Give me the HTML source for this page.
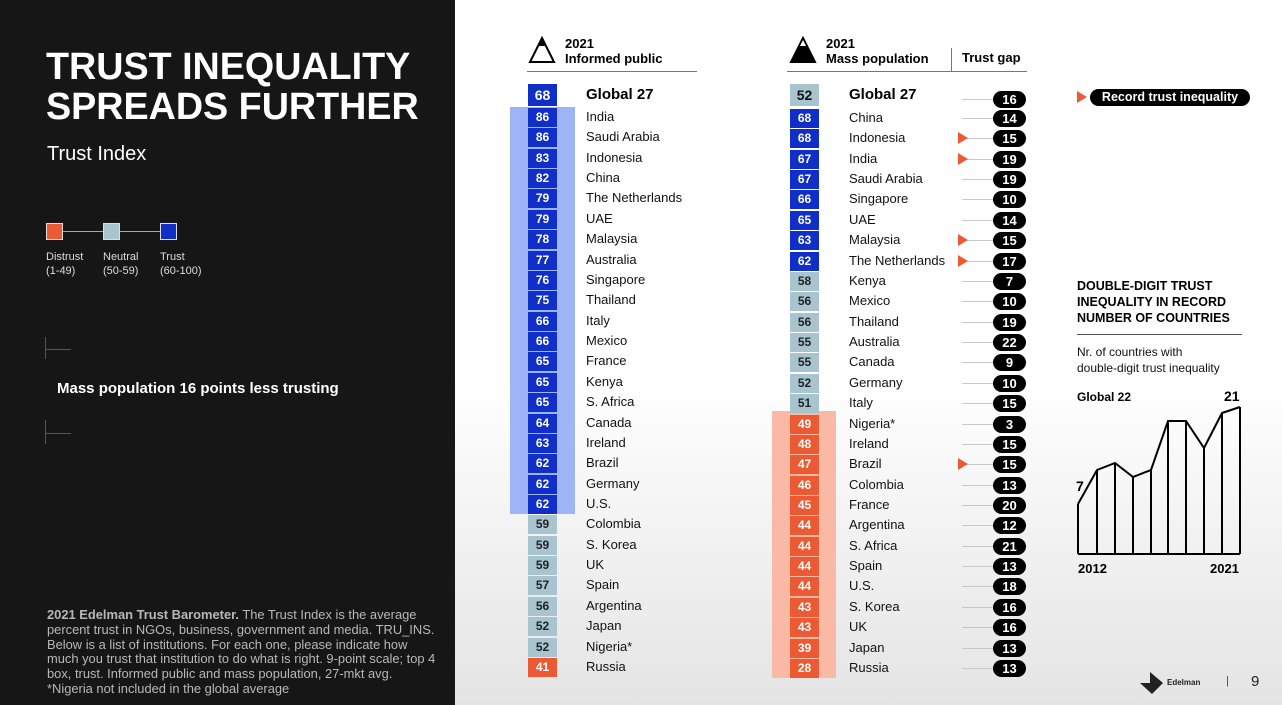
<!DOCTYPE html>
<html><head><meta charset="utf-8"><style>
*{margin:0;padding:0;box-sizing:border-box}
body{width:1282px;height:705px;overflow:hidden;position:relative;font-family:"Liberation Sans",Arial,sans-serif;background:linear-gradient(#fff 0,#fff 380px,#e4e4e4 705px)}
.a{position:absolute;white-space:nowrap}
#left{position:absolute;left:0;top:0;width:455px;height:705px;background:#161616;color:#fff}
.r{position:absolute;left:0;width:1100px;height:20px;line-height:20px;font-size:13px;color:#111;white-space:nowrap}
.b{position:absolute;top:1px;width:29px;height:19px;line-height:19px;text-align:center;font-weight:bold;font-size:12px;color:#fff}
.T{background:#0f2fc8}.N{background:#a7c4cf;color:#222}.D{background:#ec5a33}
.L .b{left:528px}.L .n{position:absolute;left:586px}
.R .b{left:790px}.R .n{position:absolute;left:849px}
.R .ln{position:absolute;left:962px;top:10px;width:34px;height:1px;background:#c8c8c8}
.R .p{position:absolute;left:993px;top:2px;width:33px;height:17px;line-height:17px;border-radius:9px;background:#000;color:#fff;font-weight:bold;font-size:13px;text-align:center}
.R .t{position:absolute;left:958px;top:4px;width:0;height:0;border-top:6px solid transparent;border-bottom:6px solid transparent;border-left:10px solid #ec5a33}
</style></head><body>
<div id="left">
<div class="a" style="left:46px;top:46px;font-size:37.7px;font-weight:bold;line-height:40px">TRUST INEQUALITY<br>SPREADS FURTHER</div>
<div class="a" style="left:47px;top:143px;font-size:20px">Trust Index</div>
<div class="a" style="left:54px;top:231px;width:120px;height:1px;background:#aaa"></div>
<div class="a" style="left:46px;top:223px;width:17px;height:17px;background:#ec5a33;border:1px solid #ddd"></div>
<div class="a" style="left:103px;top:223px;width:17px;height:17px;background:#a7c4cf;border:1px solid #ddd"></div>
<div class="a" style="left:160px;top:223px;width:17px;height:17px;background:#0f2fc8;border:1px solid #ddd"></div>
<div class="a" style="left:46px;top:250px;font-size:11px;line-height:14px;color:#ddd">Distrust<br>(1-49)</div>
<div class="a" style="left:103px;top:250px;font-size:11px;line-height:14px;color:#ddd">Neutral<br>(50-59)</div>
<div class="a" style="left:160px;top:250px;font-size:11px;line-height:14px;color:#ddd">Trust<br>(60-100)</div>
<div class="a" style="left:45px;top:337px;width:1px;height:22px;background:#555"></div>
<div class="a" style="left:45px;top:349px;width:26px;height:1px;background:#555"></div>
<div class="a" style="left:45px;top:420px;width:1px;height:24px;background:#555"></div>
<div class="a" style="left:45px;top:433px;width:26px;height:1px;background:#555"></div>
<div class="a" style="left:57px;top:380px;font-size:15px;font-weight:bold">Mass population 16 points less trusting</div>
<div class="a" style="left:47px;top:608px;font-size:12.9px;line-height:14.8px;color:#b8b8b8"><b>2021 Edelman Trust Barometer.</b> The Trust Index is the average<br>percent trust in NGOs, business, government and media. TRU_INS.<br>Below is a list of institutions. For each one, please indicate how<br>much you trust that institution to do what is right. 9-point scale; top 4<br>box, trust. Informed public and mass population, 27-mkt avg.<br>*Nigeria not included in the global average</div>
</div>

<svg class="a" style="left:528px;top:36px" width="28" height="28"><polygon points="14,2 26,26 2,26" fill="#fff" stroke="#000" stroke-width="2"/><polygon points="14,2 18,10 10,10" fill="#000"/></svg>
<div class="a" style="left:565px;top:36px;font-size:13px;font-weight:bold;line-height:15px">2021<br>Informed public</div>
<div class="a" style="left:527px;top:71px;width:170px;height:1px;background:#777"></div>
<svg class="a" style="left:789px;top:36px" width="28" height="28"><polygon points="14,2 26,26 2,26" fill="#000" stroke="#000" stroke-width="2"/><polygon points="14,4 17,10 11,10" fill="#fff"/></svg>
<div class="a" style="left:826px;top:36px;font-size:13px;font-weight:bold;line-height:15px">2021<br>Mass population</div>
<div class="a" style="left:962px;top:50px;font-size:13px;font-weight:bold">Trust gap</div>
<div class="a" style="left:951px;top:48px;width:1px;height:23px;background:#777"></div>
<div class="a" style="left:787px;top:71px;width:240px;height:1px;background:#777"></div>

<div class="a" style="left:510px;top:107px;width:65px;height:407px;background:#9db4f7"></div>
<div class="a" style="left:772px;top:411px;width:64px;height:267px;background:#f9b9a4"></div>

<div class="a" style="left:528px;top:84px;width:29px;height:22px;line-height:22px;background:#0f2fc8;color:#fff;font-weight:bold;font-size:14px;text-align:center">68</div>
<div class="a" style="left:586px;top:86px;font-size:15px;font-weight:bold">Global 27</div>
<div class="a" style="left:790px;top:84px;width:29px;height:22px;line-height:22px;background:#a7c4cf;color:#111;font-weight:bold;font-size:14px;text-align:center">52</div>
<div class="a" style="left:849px;top:86px;font-size:15px;font-weight:bold">Global 27</div>
<div class="a" style="left:962px;top:99px;width:34px;height:1px;background:#c8c8c8"></div>
<div class="a" style="left:993px;top:91px;width:33px;height:17px;line-height:17px;border-radius:9px;background:#000;color:#fff;font-weight:bold;font-size:13px;text-align:center">16</div>

<div class="L">
<div class="r" style="top:107px"><div class="b T">86</div><span class="n">India</span></div>
<div class="r" style="top:127px"><div class="b T">86</div><span class="n">Saudi Arabia</span></div>
<div class="r" style="top:148px"><div class="b T">83</div><span class="n">Indonesia</span></div>
<div class="r" style="top:168px"><div class="b T">82</div><span class="n">China</span></div>
<div class="r" style="top:188px"><div class="b T">79</div><span class="n">The Netherlands</span></div>
<div class="r" style="top:209px"><div class="b T">79</div><span class="n">UAE</span></div>
<div class="r" style="top:229px"><div class="b T">78</div><span class="n">Malaysia</span></div>
<div class="r" style="top:250px"><div class="b T">77</div><span class="n">Australia</span></div>
<div class="r" style="top:270px"><div class="b T">76</div><span class="n">Singapore</span></div>
<div class="r" style="top:290px"><div class="b T">75</div><span class="n">Thailand</span></div>
<div class="r" style="top:311px"><div class="b T">66</div><span class="n">Italy</span></div>
<div class="r" style="top:331px"><div class="b T">66</div><span class="n">Mexico</span></div>
<div class="r" style="top:351px"><div class="b T">65</div><span class="n">France</span></div>
<div class="r" style="top:372px"><div class="b T">65</div><span class="n">Kenya</span></div>
<div class="r" style="top:392px"><div class="b T">65</div><span class="n">S. Africa</span></div>
<div class="r" style="top:413px"><div class="b T">64</div><span class="n">Canada</span></div>
<div class="r" style="top:433px"><div class="b T">63</div><span class="n">Ireland</span></div>
<div class="r" style="top:453px"><div class="b T">62</div><span class="n">Brazil</span></div>
<div class="r" style="top:474px"><div class="b T">62</div><span class="n">Germany</span></div>
<div class="r" style="top:494px"><div class="b T">62</div><span class="n">U.S.</span></div>
<div class="r" style="top:514px"><div class="b N">59</div><span class="n">Colombia</span></div>
<div class="r" style="top:535px"><div class="b N">59</div><span class="n">S. Korea</span></div>
<div class="r" style="top:555px"><div class="b N">59</div><span class="n">UK</span></div>
<div class="r" style="top:575px"><div class="b N">57</div><span class="n">Spain</span></div>
<div class="r" style="top:596px"><div class="b N">56</div><span class="n">Argentina</span></div>
<div class="r" style="top:616px"><div class="b N">52</div><span class="n">Japan</span></div>
<div class="r" style="top:637px"><div class="b N">52</div><span class="n">Nigeria*</span></div>
<div class="r" style="top:657px"><div class="b D">41</div><span class="n">Russia</span></div>
</div>

<div class="R">
<div class="r" style="top:108px"><div class="b T">68</div><span class="n">China</span><i class="ln"></i><div class="p">14</div></div>
<div class="r" style="top:128px"><div class="b T">68</div><span class="n">Indonesia</span><i class="ln"></i><i class="t"></i><div class="p">15</div></div>
<div class="r" style="top:149px"><div class="b T">67</div><span class="n">India</span><i class="ln"></i><i class="t"></i><div class="p">19</div></div>
<div class="r" style="top:169px"><div class="b T">67</div><span class="n">Saudi Arabia</span><i class="ln"></i><div class="p">19</div></div>
<div class="r" style="top:189px"><div class="b T">66</div><span class="n">Singapore</span><i class="ln"></i><div class="p">10</div></div>
<div class="r" style="top:210px"><div class="b T">65</div><span class="n">UAE</span><i class="ln"></i><div class="p">14</div></div>
<div class="r" style="top:230px"><div class="b T">63</div><span class="n">Malaysia</span><i class="ln"></i><i class="t"></i><div class="p">15</div></div>
<div class="r" style="top:251px"><div class="b T">62</div><span class="n">The Netherlands</span><i class="ln"></i><i class="t"></i><div class="p">17</div></div>
<div class="r" style="top:271px"><div class="b N">58</div><span class="n">Kenya</span><i class="ln"></i><div class="p">7</div></div>
<div class="r" style="top:291px"><div class="b N">56</div><span class="n">Mexico</span><i class="ln"></i><div class="p">10</div></div>
<div class="r" style="top:312px"><div class="b N">56</div><span class="n">Thailand</span><i class="ln"></i><div class="p">19</div></div>
<div class="r" style="top:332px"><div class="b N">55</div><span class="n">Australia</span><i class="ln"></i><div class="p">22</div></div>
<div class="r" style="top:352px"><div class="b N">55</div><span class="n">Canada</span><i class="ln"></i><div class="p">9</div></div>
<div class="r" style="top:373px"><div class="b N">52</div><span class="n">Germany</span><i class="ln"></i><div class="p">10</div></div>
<div class="r" style="top:393px"><div class="b N">51</div><span class="n">Italy</span><i class="ln"></i><div class="p">15</div></div>
<div class="r" style="top:414px"><div class="b D">49</div><span class="n">Nigeria*</span><i class="ln"></i><div class="p">3</div></div>
<div class="r" style="top:434px"><div class="b D">48</div><span class="n">Ireland</span><i class="ln"></i><div class="p">15</div></div>
<div class="r" style="top:454px"><div class="b D">47</div><span class="n">Brazil</span><i class="ln"></i><i class="t"></i><div class="p">15</div></div>
<div class="r" style="top:475px"><div class="b D">46</div><span class="n">Colombia</span><i class="ln"></i><div class="p">13</div></div>
<div class="r" style="top:495px"><div class="b D">45</div><span class="n">France</span><i class="ln"></i><div class="p">20</div></div>
<div class="r" style="top:515px"><div class="b D">44</div><span class="n">Argentina</span><i class="ln"></i><div class="p">12</div></div>
<div class="r" style="top:536px"><div class="b D">44</div><span class="n">S. Africa</span><i class="ln"></i><div class="p">21</div></div>
<div class="r" style="top:556px"><div class="b D">44</div><span class="n">Spain</span><i class="ln"></i><div class="p">13</div></div>
<div class="r" style="top:576px"><div class="b D">44</div><span class="n">U.S.</span><i class="ln"></i><div class="p">18</div></div>
<div class="r" style="top:597px"><div class="b D">43</div><span class="n">S. Korea</span><i class="ln"></i><div class="p">16</div></div>
<div class="r" style="top:617px"><div class="b D">43</div><span class="n">UK</span><i class="ln"></i><div class="p">16</div></div>
<div class="r" style="top:638px"><div class="b D">39</div><span class="n">Japan</span><i class="ln"></i><div class="p">13</div></div>
<div class="r" style="top:658px"><div class="b D">28</div><span class="n">Russia</span><i class="ln"></i><div class="p">13</div></div>
</div>

<div class="a" style="left:1077px;top:91px;width:0;height:0;border-top:6px solid transparent;border-bottom:6px solid transparent;border-left:10px solid #ec5a33"></div>
<div class="a" style="left:1090px;top:89px;width:160px;height:17px;line-height:17px;border-radius:9px;background:#000;color:#fff;font-weight:bold;font-size:12.5px;text-align:center">Record trust inequality</div>
<div class="a" style="left:1077px;top:278px;font-size:12.5px;font-weight:bold;line-height:16px">DOUBLE-DIGIT TRUST<br>INEQUALITY IN RECORD<br>NUMBER OF COUNTRIES</div>
<div class="a" style="left:1077px;top:334px;width:165px;height:1px;background:#555"></div>
<div class="a" style="left:1077px;top:344px;font-size:12px;line-height:16px;color:#111">Nr. of countries with<br>double-digit trust inequality</div>
<div class="a" style="left:1077px;top:390px;font-size:12px;font-weight:bold">Global 22</div>
<div class="a" style="left:1224px;top:388px;font-size:14px;font-weight:bold">21</div>
<div class="a" style="left:1076px;top:478px;font-size:14px;font-weight:bold">7</div>
<svg class="a" style="left:0;top:0" width="1282" height="705">
<g fill="none" stroke="#000" stroke-width="2">
<polyline points="1078,504 1097,470 1115,463 1133,477 1151,470 1168,421 1186,421 1204,448 1222,413 1240,407"/>
<line x1="1078" y1="554" x2="1240" y2="554"/>
<line x1="1078" y1="504" x2="1078" y2="554"/><line x1="1097" y1="470" x2="1097" y2="554"/><line x1="1115" y1="463" x2="1115" y2="554"/><line x1="1133" y1="477" x2="1133" y2="554"/><line x1="1151" y1="470" x2="1151" y2="554"/><line x1="1168" y1="421" x2="1168" y2="554"/><line x1="1186" y1="421" x2="1186" y2="554"/><line x1="1204" y1="448" x2="1204" y2="554"/><line x1="1222" y1="413" x2="1222" y2="554"/><line x1="1240" y1="407" x2="1240" y2="554"/>
</g>
<polygon points="1140,683 1163,683 1152,694" fill="#222"/><polygon points="1150,672 1163,683 1150,683" fill="#222"/>
</svg>
<div class="a" style="left:1078px;top:561px;font-size:13px;font-weight:bold">2012</div>
<div class="a" style="left:1210px;top:561px;font-size:13px;font-weight:bold">2021</div>
<div class="a" style="left:1167px;top:678px;font-size:8px;font-weight:bold;color:#222">Edelman</div>
<div class="a" style="left:1226px;top:675px;font-size:11px;color:#444">|</div>
<div class="a" style="left:1251px;top:673px;font-size:15px;color:#222">9</div>
</body></html>
